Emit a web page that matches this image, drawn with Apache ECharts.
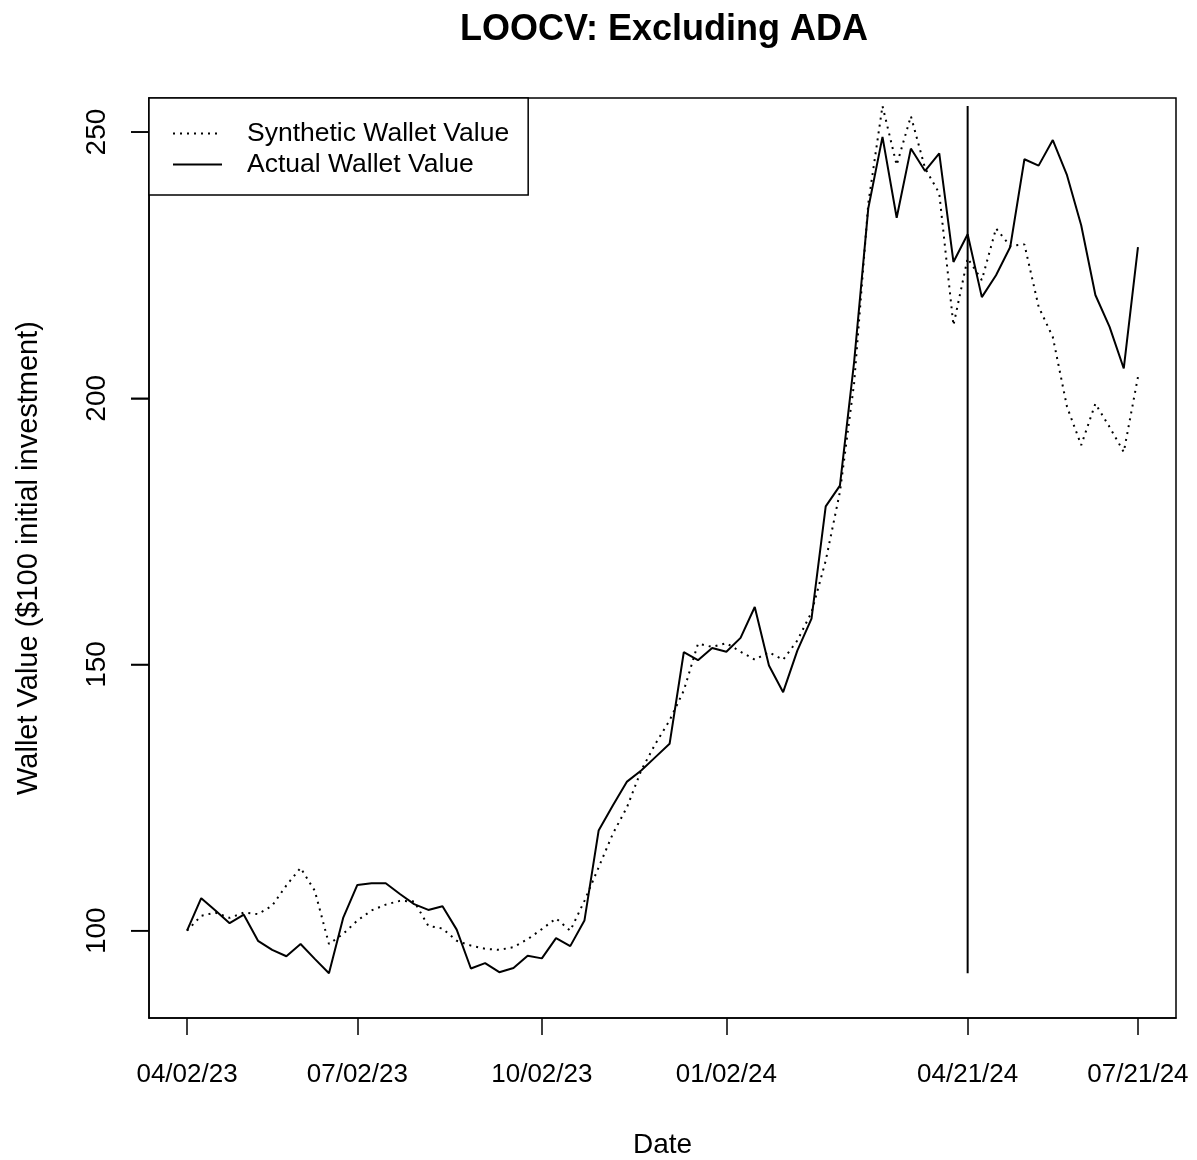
<!DOCTYPE html>
<html>
<head>
<meta charset="utf-8">
<script src="https://cdn.jsdelivr.net/npm/echarts@6/dist/echarts.min.js"></script>
<style>
html,body{margin:0;padding:0;background:#fff;}
#chart{width:1197px;height:1160px;}
</style>
</head>
<body>
<div id="chart"></div>
<script>
// ---- data (weekly observations, index 0..67) ----
const actualValues = [
  100.0, 106.1, 103.8, 101.4, 103.0, 98.1, 96.4, 95.2, 97.5, 94.7,
  92.0, 102.4, 108.6, 108.9, 108.9, 106.9, 105.0, 103.9, 104.6, 100.2,
  92.9, 93.9, 92.2, 93.0, 95.3, 94.8, 98.6, 97.1, 101.9, 118.8,
  123.5, 128.0, 130.1, 132.6, 135.1, 152.3, 150.8, 153.1, 152.4, 155.0,
  160.8, 149.8, 144.8, 152.6, 158.6, 179.7, 183.6, 206.8, 235.7, 249.1,
  233.9, 246.9, 242.7, 246.0, 225.6, 230.8, 219.0, 223.1, 228.4, 244.9,
  243.7, 248.5, 241.9, 232.5, 219.4, 213.4, 205.6, 228.4
];
const syntheticValues = [
  100.0, 102.8, 103.4, 102.4, 103.4, 103.1, 104.7, 108.5, 111.8, 107.5,
  97.5, 99.4, 101.9, 103.8, 104.9, 105.6, 105.5, 100.9, 100.4, 98.1,
  97.2, 96.6, 96.4, 96.9, 98.4, 100.3, 102.3, 100.0, 105.6, 111.9,
  118.2, 123.2, 130.1, 135.1, 139.5, 145.1, 153.9, 153.3, 154.0, 152.4,
  150.9, 152.3, 150.9, 154.5, 159.8, 169.5, 182.4, 202.8, 236.6, 254.9,
  243.8, 253.0, 243.2, 238.5, 213.7, 226.3, 222.2, 231.9, 228.6, 228.9,
  217.2, 211.5, 198.4, 191.2, 199.0, 194.6, 189.9, 204.0
];
const xTickIndices = [0, 12, 25, 38, 55, 67];
const xTickLabels = ['04/02/23', '07/02/23', '10/02/23', '01/02/24', '04/21/24', '07/21/24'];
const yTicks = [100, 150, 200, 250];
const cutoffIndex = 55; // 04/21/24 — left-out period start
const yLimits = [90, 250];

// ---- build ----
const toPairs = arr => arr.map((v, i) => [i, v]);
const n = actualValues.length;
const xPad = (n - 1) * 0.04;
const yPad = (yLimits[1] - yLimits[0]) * 0.04;
const xMinVal = -xPad;
const allVals = actualValues.concat(syntheticValues);
const vMin = Math.min.apply(null, allVals);
const vMax = Math.max.apply(null, allVals);
const FONT = "'Liberation Sans', Arial, sans-serif";
const TICK_LEN = 18;

const chart = echarts.init(document.getElementById('chart'), null, {renderer: 'canvas'});
chart.setOption({
  animation: false,
  backgroundColor: '#fff',
  title: {
    text: 'LOOCV: Excluding ADA',
    left: 659, top: 7, textAlign: 'center',
    textStyle: {fontFamily: FONT, fontWeight: 'bold', fontSize: 36, color: '#000'}
  },
  grid: {
    left: 149, right: 21, top: 98, bottom: 142,
    outerBoundsMode: 'none', containLabel: false,
    show: true, borderColor: '#000', borderWidth: 1.5, backgroundColor: 'transparent'
  },
  legend: {
    left: 149, top: 98,
    orient: 'vertical',
    backgroundColor: '#fff',
    borderColor: '#000', borderWidth: 1.5, borderRadius: 0,
    padding: [22, 19, 17, 23],
    itemGap: 4,
    itemWidth: 49, itemHeight: 14,
    itemStyle: {color: 'transparent', borderColor: 'transparent', borderWidth: 0, opacity: 0},
    textStyle: {fontFamily: FONT, fontSize: 26.5, color: '#000', padding: [0, 0, 0, 20], lineHeight: 26},
    data: ['Synthetic Wallet Value', 'Actual Wallet Value']
  },
  xAxis: {
    type: 'value',
    min: xMinVal, max: (n - 1) + xPad,
    name: 'Date', nameLocation: 'middle', nameGap: 113,
    nameTextStyle: {fontFamily: FONT, fontSize: 28, color: '#000'},
    axisLine: {show: true, onZero: false, lineStyle: {color: '#000', width: 1.5}},
    splitLine: {show: false},
    axisTick: {show: true, customValues: xTickIndices, length: 17, lineStyle: {color: '#000', width: 1.5}},
    axisLabel: {
      customValues: xTickIndices, margin: 44,
      fontFamily: FONT, fontSize: 26, color: '#000',
      formatter: v => { const k = xTickIndices.indexOf(Math.round(v)); return k >= 0 ? xTickLabels[k] : ''; }
    }
  },
  yAxis: {
    type: 'value',
    min: yLimits[0] - yPad, max: yLimits[1] + yPad,
    name: 'Wallet Value ($100 initial investment)', nameLocation: 'middle', nameGap: 106, nameRotate: 90,
    nameTextStyle: {fontFamily: FONT, fontSize: 29, color: '#000'},
    axisLine: {show: true, onZero: false, lineStyle: {color: '#000', width: 1.5}},
    splitLine: {show: false},
    axisTick: {show: true, customValues: yTicks, length: TICK_LEN, lineStyle: {color: '#000', width: 1.5}},
    axisLabel: {
      customValues: yTicks, rotate: 90, margin: 38,
      fontFamily: FONT, fontSize: 28, color: '#000'
    }
  },
  series: [
    {
      name: 'Synthetic Wallet Value', type: 'line', data: toPairs(syntheticValues),
      symbol: 'none', lineStyle: {color: '#000', width: 2, type: [2, 5]}, itemStyle: {color: '#000'}, z: 3
    },
    {
      name: 'Actual Wallet Value', type: 'line', data: toPairs(actualValues),
      symbol: 'none', lineStyle: {color: '#000', width: 2, type: 'solid'}, itemStyle: {color: '#000'}, z: 3
    },
    {
      name: 'cutoff', type: 'line', data: [[cutoffIndex, vMin], [cutoffIndex, vMax]],
      symbol: 'none', lineStyle: {color: '#000', width: 2}, silent: true, z: 2
    },
    {
      // y-axis tick marks, placed through the axis scale
      name: 'yTickMarks', type: 'custom', silent: true, clip: false, z: 5,
      data: yTicks.map(v => [xMinVal, v]),
      encode: {x: 0, y: 1},
      renderItem: (params, api) => {
        const p = api.coord([api.value(0), api.value(1)]);
        return {
          type: 'line',
          shape: {x1: p[0] - TICK_LEN, y1: p[1], x2: p[0], y2: p[1]},
          style: {stroke: '#000', lineWidth: 1.5}
        };
      }
    }
  ]
});
</script>
</body>
</html>
